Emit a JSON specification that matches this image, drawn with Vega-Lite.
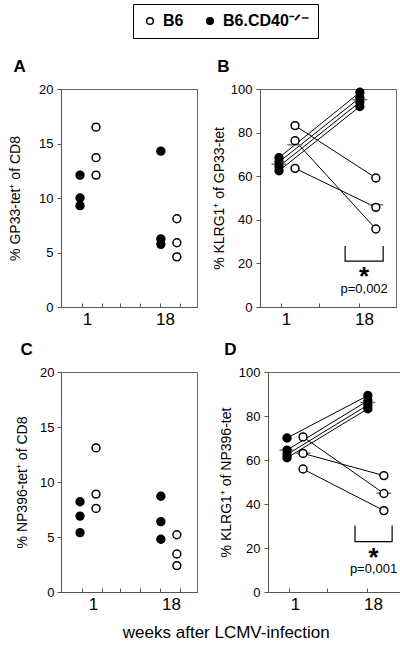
{
  "$schema": "https://vega.github.io/schema/vega-lite/v6.json",
  "padding": {"left": 8, "top": 3, "right": 4, "bottom": 4},
  "title": {"text": "weeks after LCMV-infection", "orient": "bottom", "anchor": "middle", "fontSize": 17, "fontWeight": "normal", "font": "Liberation Sans", "offset": 12, "dx": 20},
  "resolve": {"scale": {"fill": "shared"}, "legend": {"fill": "shared"}},
  "datasets": {
    "A": [
      {"group": "CD40", "id": "c1", "week": 1, "value": 12.1},
      {"group": "CD40", "id": "c2", "week": 1, "value": 10.0},
      {"group": "CD40", "id": "c3", "week": 1, "value": 9.3},
      {"group": "CD40", "id": "c1", "week": 18, "value": 14.3},
      {"group": "CD40", "id": "c2", "week": 18, "value": 6.25},
      {"group": "CD40", "id": "c3", "week": 18, "value": 5.75},
      {"group": "B6", "id": "b1", "week": 1, "value": 16.5},
      {"group": "B6", "id": "b2", "week": 1, "value": 13.7},
      {"group": "B6", "id": "b3", "week": 1, "value": 12.1},
      {"group": "B6", "id": "b1", "week": 18, "value": 8.1},
      {"group": "B6", "id": "b2", "week": 18, "value": 5.9},
      {"group": "B6", "id": "b3", "week": 18, "value": 4.6}
    ],
    "B": [
      {"group": "CD40", "id": "c1", "week": 1, "value": 68.5},
      {"group": "CD40", "id": "c2", "week": 1, "value": 66.5},
      {"group": "CD40", "id": "c3", "week": 1, "value": 64.5},
      {"group": "CD40", "id": "c4", "week": 1, "value": 62.5},
      {"group": "CD40", "id": "c1", "week": 18, "value": 98.5},
      {"group": "CD40", "id": "c2", "week": 18, "value": 96},
      {"group": "CD40", "id": "c3", "week": 18, "value": 94},
      {"group": "CD40", "id": "c4", "week": 18, "value": 92},
      {"group": "B6", "id": "b1", "week": 1, "value": 83.2},
      {"group": "B6", "id": "b2", "week": 1, "value": 76.3},
      {"group": "B6", "id": "b3", "week": 1, "value": 63.6},
      {"group": "B6", "id": "b1", "week": 18, "value": 59.2},
      {"group": "B6", "id": "b2", "week": 18, "value": 35.8},
      {"group": "B6", "id": "b3", "week": 18, "value": 45.7}
    ],
    "C": [
      {"group": "CD40", "id": "c1", "week": 1, "value": 8.2},
      {"group": "CD40", "id": "c2", "week": 1, "value": 6.9},
      {"group": "CD40", "id": "c3", "week": 1, "value": 5.4},
      {"group": "CD40", "id": "c1", "week": 18, "value": 8.7},
      {"group": "CD40", "id": "c2", "week": 18, "value": 6.4},
      {"group": "CD40", "id": "c3", "week": 18, "value": 4.8},
      {"group": "B6", "id": "b1", "week": 1, "value": 13.1},
      {"group": "B6", "id": "b2", "week": 1, "value": 8.9},
      {"group": "B6", "id": "b3", "week": 1, "value": 7.6},
      {"group": "B6", "id": "b1", "week": 18, "value": 5.2},
      {"group": "B6", "id": "b2", "week": 18, "value": 3.45},
      {"group": "B6", "id": "b3", "week": 18, "value": 2.4}
    ],
    "D": [
      {"group": "CD40", "id": "c1", "week": 1, "value": 70},
      {"group": "CD40", "id": "c2", "week": 1, "value": 64.5},
      {"group": "CD40", "id": "c3", "week": 1, "value": 62.5},
      {"group": "CD40", "id": "c4", "week": 1, "value": 61},
      {"group": "CD40", "id": "c1", "week": 18, "value": 89.3},
      {"group": "CD40", "id": "c2", "week": 18, "value": 87},
      {"group": "CD40", "id": "c3", "week": 18, "value": 85},
      {"group": "CD40", "id": "c4", "week": 18, "value": 83.3},
      {"group": "B6", "id": "b1", "week": 1, "value": 70.5},
      {"group": "B6", "id": "b2", "week": 1, "value": 63},
      {"group": "B6", "id": "b3", "week": 1, "value": 55.9},
      {"group": "B6", "id": "b1", "week": 18, "value": 44.8},
      {"group": "B6", "id": "b2", "week": 18, "value": 52.9},
      {"group": "B6", "id": "b3", "week": 18, "value": 37}
    ],
    "bracketB": [
      {"order": 1, "week": 14.9, "value": 28},
      {"order": 2, "week": 14.9, "value": 21},
      {"order": 3, "week": 22.9, "value": 21},
      {"order": 4, "week": 22.9, "value": 28}
    ],
    "noteB": [
      {"kind": "star", "label": "*", "week": 18.9, "value": 16.6},
      {"kind": "p", "label": "p=0,002", "week": 18.9, "value": 8.3}
    ],
    "bracketD": [
      {"order": 1, "week": 15.3, "value": 30.2},
      {"order": 2, "week": 15.3, "value": 22.9},
      {"order": 3, "week": 23.1, "value": 22.9},
      {"order": 4, "week": 23.1, "value": 30.2}
    ],
    "noteD": [
      {"kind": "star", "label": "*", "week": 19.2, "value": 18.2},
      {"kind": "p", "label": "p=0,001", "week": 19.2, "value": 10.5}
    ]
  },
  "vconcat": [
    {
      "hconcat": [
        {
          "width": 136, "height": 218,
          "title": {"text": "A", "anchor": "start", "fontSize": 17, "fontWeight": "bold", "dx": 5, "offset": 7},
          "data": {"name": "A"},
          "encoding": {
            "x": {"field": "week", "type": "quantitative", "scale": {"domain": [-3, 25.6], "nice": false, "zero": false},
              "axis": {"values": [1.4, 5.6, 9.4, 13.6, 17.8, 22], "labelExpr": "datum.value < 3 ? '1' : (datum.value > 17 && datum.value < 19) ? '18' : ''", "title": null, "labelOffset": 5}},
            "y": {"field": "value", "type": "quantitative", "scale": {"domain": [0, 20], "nice": false},
              "axis": {"values": [0, 5, 10, 15, 20], "title": "% GP33-tet⁺ of CD8", "titlePadding": 16, "labelPadding": 4}}
          },
          "layer": [
            {"transform": [{"filter": "datum.group == 'CD40'"}],
             "mark": {"type": "circle", "size": 62, "stroke": "black", "strokeWidth": 1.5, "opacity": 1},
             "encoding": {"fill": {"field": "group", "type": "nominal", "scale": {"domain": ["B6", "CD40"], "range": ["white", "black"]}, "legend": {"title": null, "labelExpr": "datum.value == 'CD40' ? 'B6.CD40⁻ᐟ⁻' : 'B6'"}}}},
            {"transform": [{"filter": "datum.group == 'B6'"}],
             "mark": {"type": "circle", "size": 62, "stroke": "black", "strokeWidth": 1.5, "opacity": 1, "xOffset": 16},
             "encoding": {"fill": {"field": "group", "type": "nominal", "scale": {"domain": ["B6", "CD40"], "range": ["white", "black"]}, "legend": {"title": null, "labelExpr": "datum.value == 'CD40' ? 'B6.CD40⁻ᐟ⁻' : 'B6'"}}}}
          ]
        },
        {
          "width": 136, "height": 218,
          "title": {"text": "B", "anchor": "start", "fontSize": 17, "fontWeight": "bold", "dx": 5, "offset": 7},
          "layer": [
            {"data": {"name": "B"},
             "encoding": {
               "x": {"field": "week", "type": "quantitative", "scale": {"domain": [-3, 25.6], "nice": false, "zero": false},
                 "axis": {"values": [1.4, 5.6, 9.4, 13.6, 17.8, 22], "labelExpr": "datum.value < 3 ? '1' : (datum.value > 17 && datum.value < 19) ? '18' : ''", "title": null, "labelOffset": 5}},
               "y": {"field": "value", "type": "quantitative", "scale": {"domain": [0, 100], "nice": false},
                 "axis": {"values": [0, 20, 40, 60, 80, 100], "title": "% KLRG1⁺ of GP33-tet", "titlePadding": 4, "labelPadding": 4}}
             },
             "layer": [
              {"transform": [{"filter": "datum.group == 'CD40'"}],
               "mark": {"type": "line", "color": "black", "strokeWidth": 1},
               "encoding": {"detail": {"field": "id"}}},
              {"transform": [{"filter": "datum.group == 'B6'"}],
               "mark": {"type": "line", "color": "black", "strokeWidth": 1, "xOffset": 16},
               "encoding": {"detail": {"field": "id"}}},
              {"transform": [{"filter": "datum.group == 'CD40'"}, {"aggregate": [{"op": "mean", "field": "value", "as": "value"}], "groupby": ["week", "group"]}],
               "mark": {"type": "tick", "orient": "horizontal", "color": "#777", "size": 15, "thickness": 1.5, "opacity": 1},
               "encoding": {}},
              {"transform": [{"filter": "datum.group == 'B6'"}, {"aggregate": [{"op": "mean", "field": "value", "as": "value"}], "groupby": ["week", "group"]}],
               "mark": {"type": "tick", "orient": "horizontal", "color": "#777", "size": 15, "thickness": 1.5, "opacity": 1, "xOffset": 16},
               "encoding": {}},
              {"transform": [{"filter": "datum.group == 'CD40'"}],
               "mark": {"type": "circle", "size": 62, "stroke": "black", "strokeWidth": 1.5, "opacity": 1},
               "encoding": {"fill": {"field": "group", "type": "nominal", "scale": {"domain": ["B6", "CD40"], "range": ["white", "black"]}, "legend": {"title": null, "labelExpr": "datum.value == 'CD40' ? 'B6.CD40⁻ᐟ⁻' : 'B6'"}}}},
              {"transform": [{"filter": "datum.group == 'B6'"}],
               "mark": {"type": "circle", "size": 62, "stroke": "black", "strokeWidth": 1.5, "opacity": 1, "xOffset": 16},
               "encoding": {"fill": {"field": "group", "type": "nominal", "scale": {"domain": ["B6", "CD40"], "range": ["white", "black"]}, "legend": {"title": null, "labelExpr": "datum.value == 'CD40' ? 'B6.CD40⁻ᐟ⁻' : 'B6'"}}}}
             ]},
            {"data": {"name": "bracketB"},
             "mark": {"type": "line", "color": "black", "strokeWidth": 1.2},
             "encoding": {"x": {"field": "week", "type": "quantitative"}, "y": {"field": "value", "type": "quantitative"}, "order": {"field": "order"}}},
            {"data": {"name": "noteB"},
             "transform": [{"filter": "datum.kind == 'star'"}],
             "mark": {"type": "text", "fontSize": 26, "fontWeight": "bold", "dy": 14, "baseline": "alphabetic", "font": "Liberation Sans"},
             "encoding": {"x": {"field": "week", "type": "quantitative"}, "y": {"field": "value", "type": "quantitative"}, "text": {"field": "label"}}},
            {"data": {"name": "noteB"},
             "transform": [{"filter": "datum.kind == 'p'"}],
             "mark": {"type": "text", "fontSize": 13, "baseline": "middle", "font": "Liberation Sans"},
             "encoding": {"x": {"field": "week", "type": "quantitative"}, "y": {"field": "value", "type": "quantitative"}, "text": {"field": "label"}}}
          ]
        }
      ],
      "spacing": 13
    },
    {
      "hconcat": [
        {
          "width": 136, "height": 220,
          "title": {"text": "C", "anchor": "start", "fontSize": 17, "fontWeight": "bold", "dx": 5, "offset": 7},
          "data": {"name": "C"},
          "encoding": {
            "x": {"field": "week", "type": "quantitative", "scale": {"domain": [-3, 25.6], "nice": false, "zero": false},
              "axis": {"values": [1.4, 5.6, 9.4, 13.6, 17.8, 22], "labelExpr": "datum.value < 3 ? '1' : (datum.value > 17 && datum.value < 19) ? '18' : ''", "title": null, "labelOffset": 11}},
            "y": {"field": "value", "type": "quantitative", "scale": {"domain": [0, 20], "nice": false},
              "axis": {"values": [0, 5, 10, 15, 20], "title": "% NP396-tet⁺ of CD8", "titlePadding": 10, "labelPadding": 3}}
          },
          "layer": [
            {"transform": [{"filter": "datum.group == 'CD40'"}],
             "mark": {"type": "circle", "size": 62, "stroke": "black", "strokeWidth": 1.5, "opacity": 1},
             "encoding": {"fill": {"field": "group", "type": "nominal", "scale": {"domain": ["B6", "CD40"], "range": ["white", "black"]}, "legend": {"title": null, "labelExpr": "datum.value == 'CD40' ? 'B6.CD40⁻ᐟ⁻' : 'B6'"}}}},
            {"transform": [{"filter": "datum.group == 'B6'"}],
             "mark": {"type": "circle", "size": 62, "stroke": "black", "strokeWidth": 1.5, "opacity": 1, "xOffset": 16},
             "encoding": {"fill": {"field": "group", "type": "nominal", "scale": {"domain": ["B6", "CD40"], "range": ["white", "black"]}, "legend": {"title": null, "labelExpr": "datum.value == 'CD40' ? 'B6.CD40⁻ᐟ⁻' : 'B6'"}}}}
          ]
        },
        {
          "width": 136, "height": 220,
          "title": {"text": "D", "anchor": "start", "fontSize": 17, "fontWeight": "bold", "dx": 5, "offset": 7},
          "layer": [
            {"data": {"name": "D"},
             "encoding": {
               "x": {"field": "week", "type": "quantitative", "scale": {"domain": [-3, 25.6], "nice": false, "zero": false},
                 "axis": {"values": [1.4, 5.6, 9.4, 13.6, 17.8, 22], "labelExpr": "datum.value < 3 ? '1' : (datum.value > 17 && datum.value < 19) ? '18' : ''", "title": null, "labelOffset": 6}},
               "y": {"field": "value", "type": "quantitative", "scale": {"domain": [0, 100], "nice": false},
                 "axis": {"values": [0, 20, 40, 60, 80, 100], "title": "% KLRG1⁺ of NP396-tet", "titlePadding": 5, "labelPadding": 4}}
             },
             "layer": [
              {"transform": [{"filter": "datum.group == 'CD40'"}],
               "mark": {"type": "line", "color": "black", "strokeWidth": 1},
               "encoding": {"detail": {"field": "id"}}},
              {"transform": [{"filter": "datum.group == 'B6'"}],
               "mark": {"type": "line", "color": "black", "strokeWidth": 1, "xOffset": 16},
               "encoding": {"detail": {"field": "id"}}},
              {"transform": [{"filter": "datum.group == 'CD40'"}, {"aggregate": [{"op": "mean", "field": "value", "as": "value"}], "groupby": ["week", "group"]}],
               "mark": {"type": "tick", "orient": "horizontal", "color": "#777", "size": 15, "thickness": 1.5, "opacity": 1},
               "encoding": {}},
              {"transform": [{"filter": "datum.group == 'B6'"}, {"aggregate": [{"op": "mean", "field": "value", "as": "value"}], "groupby": ["week", "group"]}],
               "mark": {"type": "tick", "orient": "horizontal", "color": "#777", "size": 15, "thickness": 1.5, "opacity": 1, "xOffset": 16},
               "encoding": {}},
              {"transform": [{"filter": "datum.group == 'CD40'"}],
               "mark": {"type": "circle", "size": 62, "stroke": "black", "strokeWidth": 1.5, "opacity": 1},
               "encoding": {"fill": {"field": "group", "type": "nominal", "scale": {"domain": ["B6", "CD40"], "range": ["white", "black"]}, "legend": {"title": null, "labelExpr": "datum.value == 'CD40' ? 'B6.CD40⁻ᐟ⁻' : 'B6'"}}}},
              {"transform": [{"filter": "datum.group == 'B6'"}],
               "mark": {"type": "circle", "size": 62, "stroke": "black", "strokeWidth": 1.5, "opacity": 1, "xOffset": 16},
               "encoding": {"fill": {"field": "group", "type": "nominal", "scale": {"domain": ["B6", "CD40"], "range": ["white", "black"]}, "legend": {"title": null, "labelExpr": "datum.value == 'CD40' ? 'B6.CD40⁻ᐟ⁻' : 'B6'"}}}}
             ]},
            {"data": {"name": "bracketD"},
             "mark": {"type": "line", "color": "black", "strokeWidth": 1.2},
             "encoding": {"x": {"field": "week", "type": "quantitative"}, "y": {"field": "value", "type": "quantitative"}, "order": {"field": "order"}}},
            {"data": {"name": "noteD"},
             "transform": [{"filter": "datum.kind == 'star'"}],
             "mark": {"type": "text", "fontSize": 26, "fontWeight": "bold", "dy": 14, "baseline": "alphabetic", "font": "Liberation Sans"},
             "encoding": {"x": {"field": "week", "type": "quantitative"}, "y": {"field": "value", "type": "quantitative"}, "text": {"field": "label"}}},
            {"data": {"name": "noteD"},
             "transform": [{"filter": "datum.kind == 'p'"}],
             "mark": {"type": "text", "fontSize": 13, "baseline": "middle", "font": "Liberation Sans"},
             "encoding": {"x": {"field": "week", "type": "quantitative"}, "y": {"field": "value", "type": "quantitative"}, "text": {"field": "label"}}}
          ]
        }
      ],
      "spacing": 20
    }
  ],
  "spacing": 12,
  "config": {
    "font": "Liberation Sans",
    "view": {"stroke": "#666", "strokeWidth": 1},
    "title": {"font": "Liberation Sans", "color": "black"},
    "axis": {"grid": false, "domainColor": "#555", "tickColor": "#555", "labelColor": "black", "titleColor": "black", "labelFont": "Liberation Sans", "titleFont": "Liberation Sans", "titleFontWeight": "normal"},
    "axisY": {"labelFontSize": 13, "titleFontSize": 14, "tickSize": 4},
    "axisX": {"labelFontSize": 17, "tickSize": -4, "labelPadding": 8, "labelFlush": false, "labelOverlap": false, "domain": true},
    "legend": {"orient": "none", "legendX": 72, "legendY": -85, "direction": "horizontal", "strokeColor": "black", "padding": 9, "labelFontSize": 16, "labelFontWeight": "bold", "labelFont": "Liberation Sans", "labelColor": "black", "symbolSize": 45, "symbolType": "circle", "symbolStrokeColor": "black", "symbolStrokeWidth": 1.5, "columnPadding": 18, "labelOffset": 5}
  }
}
